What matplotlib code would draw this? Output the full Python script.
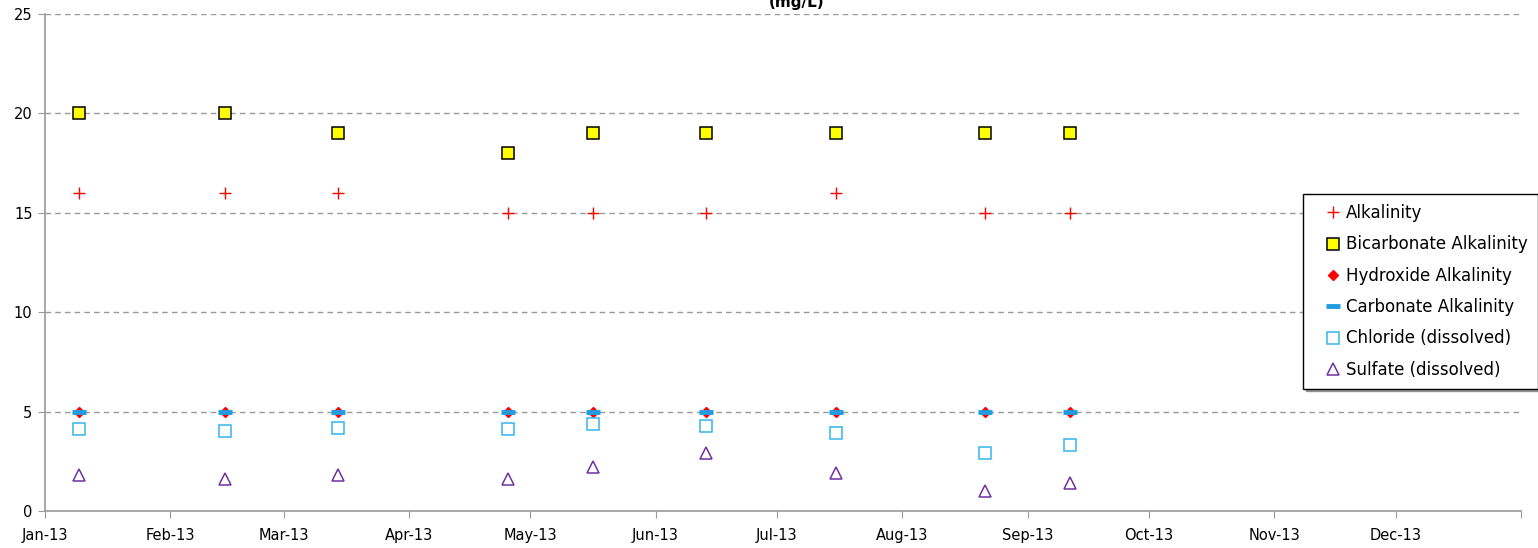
import numpy as np
import pandas as pd
import matplotlib
matplotlib.use("Agg")
import matplotlib.pyplot as plt
import matplotlib.dates as mdates

# sample dates and values (mg/L)
dates = pd.to_datetime(["2013-01-09 12:00", "2013-02-14 12:00", "2013-03-14 12:00",
                        "2013-04-25 12:00", "2013-05-16 12:00", "2013-06-13 12:00",
                        "2013-07-15 12:00", "2013-08-21 12:00", "2013-09-11 12:00"])
alkalinity = [16, 16, 16, 15, 15, 15, 16, 15, 15]
bicarbonate = [20, 20, 19, 18, 19, 19, 19, 19, 19]
hydroxide = [5, 5, 5, 5, 5, 5, 5, 5, 5]
carbonate = [5, 5, 5, 5, 5, 5, 5, 5, 5]
chloride = [4.1, 4.0, 4.2, 4.1, 4.4, 4.3, 3.9, 2.9, 3.3]
sulfate = [1.8, 1.6, 1.8, 1.6, 2.2, 2.9, 1.9, 1.0, 1.4]

plt.rcParams['font.family'] = ['DejaVu Sans']

fig = plt.figure(figsize=(15.38, 5.48), dpi=100)
ax = fig.add_axes([45/1538, 1 - 511/548, (1521-45)/1538, (511-14)/548])

ax.plot(dates, alkalinity, ls='none', marker='+', ms=8, mew=1.0, color='red',
        label='Alkalinity')
ax.plot(dates, bicarbonate, ls='none', marker='s', ms=9, mfc='#ffff00', mec='black',
        mew=1.1, label='Bicarbonate Alkalinity')
ax.plot(dates, hydroxide, ls='none', marker='D', ms=5, color='red',
        label='Hydroxide Alkalinity')
ax.plot(dates, carbonate, ls='none', marker='_', ms=10, mew=3.5, color='#1f9de0',
        label='Carbonate Alkalinity')
ax.plot(dates, chloride, ls='none', marker='s', ms=8.5, mfc='none', mec='#33b5ea',
        mew=1.1, label='Chloride (dissolved)')
ax.plot(dates, sulfate, ls='none', marker='^', ms=9, mfc='none', mec='#7030a0',
        mew=1.1, label='Sulfate (dissolved)')

ax.set_xlim(pd.Timestamp("2013-01-01"), pd.Timestamp("2014-01-01"))
ax.set_ylim(0, 25)
ax.set_yticks([0, 5, 10, 15, 20, 25])
ax.xaxis.set_major_locator(mdates.MonthLocator())
ticks = ax.get_xticks()
ax.set_xticks(ticks)
# the final tick (Jan-14) has no label
ax.set_xticklabels([mdates.num2date(t).strftime('%b-%y') if i < len(ticks) - 1 else ''
                    for i, t in enumerate(ticks)])
ax.tick_params(axis='x', labelsize=10.5, color='#999999', length=5,
               direction='out', pad=7)
ax.tick_params(axis='y', labelsize=10.5, color='#999999', length=5, pad=4)

ax.grid(axis='y', ls=(0, (4, 3)), color='#999999', lw=1)
ax.set_axisbelow(True)
for s in ['top', 'right']:
    ax.spines[s].set_visible(False)
for s in ['left', 'bottom']:
    ax.spines[s].set_color('#999999')
    ax.spines[s].set_linewidth(1.2)

fig.text(0.518, 1.012, 'Alkalinity and Anions\n(mg/L)', ha='center', va='center',
         fontsize=11, fontweight='bold')

leg = fig.legend(loc='upper left', bbox_to_anchor=(1303/1538, 1 - 194/548),
                 frameon=True, fancybox=False, shadow=True, fontsize=12,
                 handlelength=2.4, handletextpad=-0.4, labelspacing=0.8,
                 borderpad=0.6, borderaxespad=0)
leg.get_frame().set_edgecolor('black')
leg.get_frame().set_linewidth(1.0)

plt.savefig('out.png', dpi=100)
